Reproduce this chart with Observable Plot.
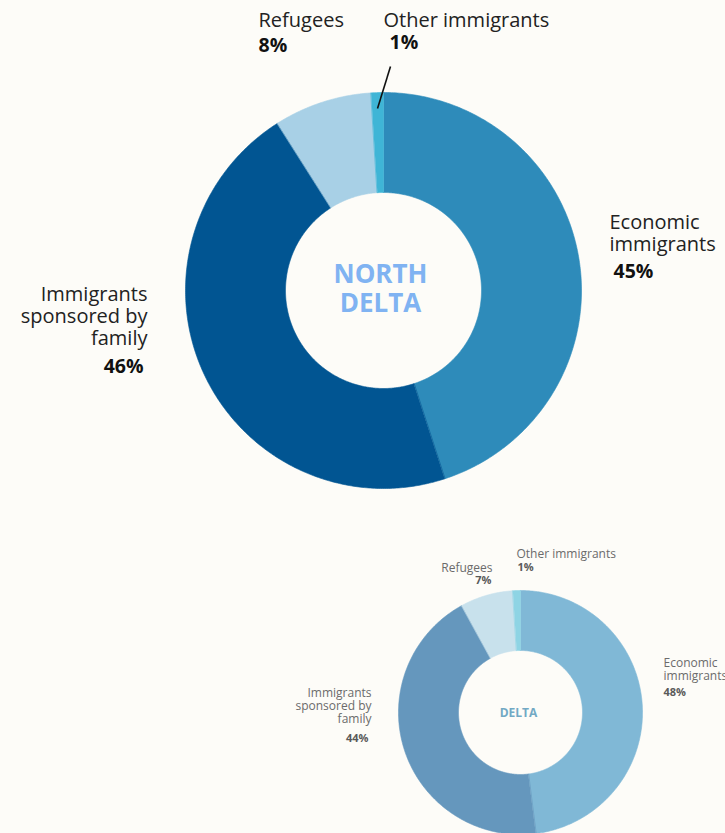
<!DOCTYPE html>
<html><head><meta charset="utf-8">
<script src="https://cdn.jsdelivr.net/npm/d3@7"></script>
<script src="https://cdn.jsdelivr.net/npm/@observablehq/plot@0.6"></script>
<style>
html,body{margin:0;padding:0;background:#fdfcf8;}
#chart svg{display:block;}
</style></head>
<body><div id="chart"></div>
<script>
// Data
const categories = ["Economic immigrants", "Immigrants sponsored by family", "Refugees", "Other immigrants"];
const northDeltaValues = [45, 46, 8, 1];
const deltaValues = [48, 44, 7, 1];
const northDeltaColors = ["#2e8bba", "#015592", "#a8d0e6", "#3fb5d6"];
const deltaColors = ["#80b8d6", "#6597bd", "#c8e1ec", "#8ed4e4"];
const labelTexts = ["Economic\nimmigrants", "Immigrants\nsponsored by\nfamily", "Refugees", "Other immigrants"];
const donutNames = ["NORTH\nDELTA", "DELTA"];

// Layout
const W = 725, H = 833;
const donuts = [
  {name: donutNames[0], values: northDeltaValues, colors: northDeltaColors, cx: 383, cy: 290, r0: 98, r1: 198},
  {name: donutNames[1], values: deltaValues, colors: deltaColors, cx: 520, cy: 712, r0: 62, r1: 122}
];

// Build slice polygons from the values
const polys = [];
donuts.forEach((d, di) => {
  const total = d3.sum(d.values);
  let acc = 0;
  d.values.forEach((v, i) => {
    const a0 = acc / total * 2 * Math.PI;
    acc += v;
    const a1 = acc / total * 2 * Math.PI;
    const n = Math.max(4, Math.ceil((a1 - a0) / 0.01));
    const key = di + "-" + i;
    for (let k = 0; k <= n; k++) {
      const a = a0 + (a1 - a0) * k / n;
      polys.push({key, color: d.colors[i], x: d.cx + d.r1 * Math.sin(a), y: d.cy - d.r1 * Math.cos(a)});
    }
    for (let k = n; k >= 0; k--) {
      const a = a0 + (a1 - a0) * k / n;
      polys.push({key, color: d.colors[i], x: d.cx + d.r0 * Math.sin(a), y: d.cy - d.r0 * Math.cos(a)});
    }
  });
});

// Label layout
const bigLabels = [
  {t: labelTexts[0], p: northDeltaValues[0], x: 609, y: 232, px: 613, py: 271, anchor: "start"},
  {t: labelTexts[1], p: northDeltaValues[1], x: 147, y: 315, px: 143, py: 366, anchor: "end"},
  {t: labelTexts[2], p: northDeltaValues[2], x: 258, y: 19, px: 258, py: 45, anchor: "start"},
  {t: labelTexts[3], p: northDeltaValues[3], x: 383, y: 19, px: 389, py: 42, anchor: "start"}
];
const smallLabels = [
  {t: "Economic\nimmigrants", p: deltaValues[0], x: 663, y: 668.5, px: 663, py: 692, anchor: "start"},
  {t: labelTexts[1], p: deltaValues[1], x: 371, y: 705, px: 368, py: 738, anchor: "end"},
  {t: labelTexts[2], p: deltaValues[2], x: 492, y: 567, px: 491, py: 580, anchor: "end"},
  {t: labelTexts[3], p: deltaValues[3], x: 516, y: 553, px: 517, py: 567, anchor: "start"}
];
const leader = [{x1: 390, y1: 66, x2: 377, y2: 108}];

const font = "'Open Sans', 'Noto Sans', sans-serif";

const plot = Plot.plot({
  width: W, height: H,
  margin: 0,
  x: {domain: [0, W], range: [0, W], axis: null},
  y: {domain: [0, H], range: [0, H], axis: null},
  color: {type: "identity"},
  style: {background: "#fdfcf8", fontFamily: font},
  marks: [
    Plot.line(polys, {x: "x", y: "y", z: "key", fill: "color", stroke: "color", strokeWidth: 0.6, curve: "linear-closed"}),
    Plot.link(leader, {x1: "x1", y1: "y1", x2: "x2", y2: "y2", stroke: "#111", strokeWidth: 1.6}),
    // big donut labels
    Plot.text(bigLabels.filter(d => d.anchor === "start"), {x: "x", y: "y", text: "t", textAnchor: "start", fontSize: 20, fill: "#222", lineHeight: 1.1, letterSpacing: 1.4}),
    Plot.text(bigLabels.filter(d => d.anchor === "end"), {x: "x", y: "y", text: "t", textAnchor: "end", fontSize: 20, fill: "#222", lineHeight: 1.1, letterSpacing: 1.4}),
    Plot.text(bigLabels.filter(d => d.anchor === "start"), {x: "px", y: "py", text: d => d.p + "%", textAnchor: "start", fontSize: 19.5, fontWeight: 700, fill: "#111", letterSpacing: 0.8}),
    Plot.text(bigLabels.filter(d => d.anchor === "end"), {x: "px", y: "py", text: d => d.p + "%", textAnchor: "end", fontSize: 19.5, fontWeight: 700, fill: "#111", letterSpacing: 0.8}),
    // small donut labels
    Plot.text(smallLabels.filter(d => d.anchor === "start"), {x: "x", y: "y", text: "t", textAnchor: "start", fontSize: 12, fill: "#6b6b6b", lineHeight: 1.08, letterSpacing: 1}),
    Plot.text(smallLabels.filter(d => d.anchor === "end"), {x: "x", y: "y", text: "t", textAnchor: "end", fontSize: 12, fill: "#6b6b6b", lineHeight: 1.08, letterSpacing: 1}),
    Plot.text(smallLabels.filter(d => d.anchor === "start"), {x: "px", y: "py", text: d => d.p + "%", textAnchor: "start", fontSize: 11, fontWeight: 700, fill: "#5a5a5a", letterSpacing: 0.8}),
    Plot.text(smallLabels.filter(d => d.anchor === "end"), {x: "px", y: "py", text: d => d.p + "%", textAnchor: "end", fontSize: 11, fontWeight: 700, fill: "#5a5a5a", letterSpacing: 0.8}),
    // center names
    Plot.text([donuts[0]], {x: d => d.cx - 3, y: d => d.cy - 2.5, text: "name", fontSize: 26, fontWeight: 700, fill: "#80b3f2", lineHeight: 1.12, letterSpacing: 2.6}),
    Plot.text([donuts[1]], {x: d => d.cx - 2, y: d => d.cy + 1, text: "name", fontSize: 12, fontWeight: 700, fill: "#72a9c4", letterSpacing: 1})
  ]
});
document.getElementById("chart").appendChild(plot);
</script>
</body></html>
